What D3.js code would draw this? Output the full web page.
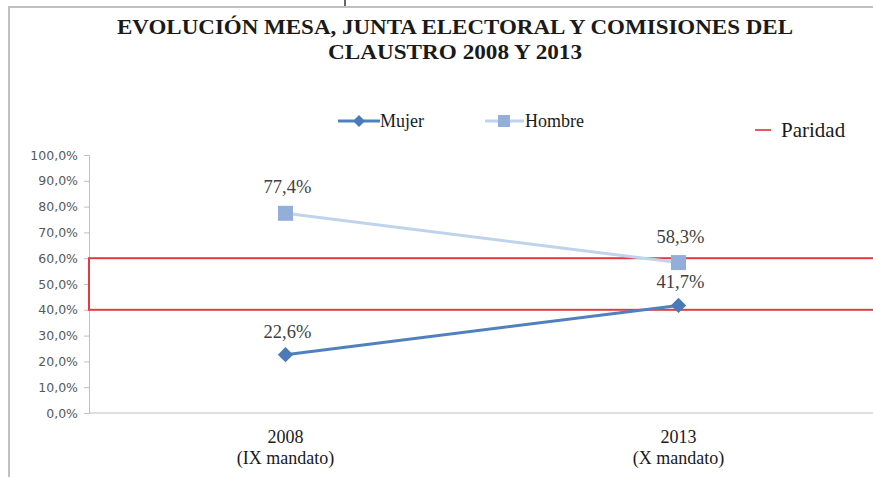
<!DOCTYPE html>
<html>
<head>
<meta charset="utf-8">
<script src="https://cdn.jsdelivr.net/npm/d3@7"></script>
<style>
  body { margin: 0; background: #fff; }
  svg { display: block; }
</style>
</head>
<body>
<div id="chart"></div>
<script>
const categories = ['2008', '2013'];
const categorySub = ['(IX mandato)', '(X mandato)'];
const mujer = [22.6, 41.7];
const hombre = [77.4, 58.3];
const paridad = [40, 60];
const yTicks = [0, 10, 20, 30, 40, 50, 60, 70, 80, 90, 100];
const titleLines = ['EVOLUCIÓN MESA, JUNTA ELECTORAL Y COMISIONES DEL', 'CLAUSTRO 2008 Y 2013'];

const width = 873;
const height = 477;
const plot = { left: 89, right: 875, top: 155, bottom: 413 };

const fmt = v => v.toFixed(1).replace('.', ',') + '%';

const svg = d3.select('#chart')
  .append('svg')
  .attr('width', width)
  .attr('height', height);

// page frame
svg.append('path')
  .attr('d', `M9,${height} V7 H${width}`)
  .attr('fill', 'none')
  .attr('stroke', '#c0c0c0')
  .attr('stroke-width', 2);
svg.append('line')
  .attr('x1', 345).attr('x2', 345).attr('y1', 0).attr('y2', 6)
  .attr('stroke', '#333').attr('stroke-width', 1.5);

// title
titleLines.forEach((t, i) => {
  svg.append('text')
    .attr('x', 455)
    .attr('y', 34 + i * 25)
    .attr('text-anchor', 'middle')
    .attr('textLength', i === 0 ? 676 : 254)
    .attr('lengthAdjust', 'spacingAndGlyphs')
    .style('font-family', '"Liberation Serif", serif')
    .style('font-size', '21px')
    .style('font-weight', 'bold')
    .style('fill', '#1a1a1a')
    .text(t);
});

const x = d3.scalePoint()
  .domain(categories)
  .range([plot.left, plot.right])
  .padding(0.5);

const y = d3.scaleLinear()
  .domain([0, 100])
  .range([plot.bottom, plot.top]);

// y axis
const yAxis = svg.append('g')
  .attr('transform', `translate(${plot.left},0)`)
  .call(d3.axisLeft(y).tickValues(yTicks).tickSize(5).tickPadding(6).tickFormat(fmt));
yAxis.select('.domain').attr('stroke', '#bfbfbf');
yAxis.selectAll('.tick line').attr('stroke', '#bfbfbf');
yAxis.selectAll('.tick text')
  .style('font-family', '"DejaVu Sans", sans-serif')
  .style('font-size', '12.5px')
  .attr('fill', '#595959');

// x axis
svg.append('line')
  .attr('x1', plot.left).attr('x2', width)
  .attr('y1', plot.bottom).attr('y2', plot.bottom)
  .attr('stroke', '#bfbfbf');

categories.forEach((c, i) => {
  const t = svg.append('text')
    .attr('x', x(c))
    .attr('text-anchor', 'middle')
    .style('font-family', '"Liberation Serif", serif')
    .style('font-size', '18px')
    .style('fill', '#1a1a1a');
  t.append('tspan').attr('x', x(c)).attr('y', 443).text(c);
  t.append('tspan').attr('x', x(c)).attr('y', 464).text(categorySub[i]);
});

// parity band
svg.append('rect')
  .attr('x', plot.left)
  .attr('y', y(paridad[1]))
  .attr('width', 800)
  .attr('height', y(paridad[0]) - y(paridad[1]))
  .attr('fill', 'none')
  .attr('stroke', '#e03c40')
  .attr('stroke-width', 2);

const line = d3.line()
  .x((d, i) => x(categories[i]))
  .y(d => y(d));

const diamond = d3.symbol().type(d3.symbolDiamond2).size(150);

// Hombre
svg.append('path')
  .datum(hombre)
  .attr('d', line)
  .attr('fill', 'none')
  .attr('stroke', '#c0d3ec')
  .attr('stroke-width', 3);
svg.selectAll('.hm')
  .data(hombre)
  .enter()
  .append('rect')
  .attr('x', (d, i) => x(categories[i]) - 7.5)
  .attr('y', d => y(d) - 7.5)
  .attr('width', 15)
  .attr('height', 15)
  .attr('fill', '#93aedb');

// Mujer
svg.append('path')
  .datum(mujer)
  .attr('d', line)
  .attr('fill', 'none')
  .attr('stroke', '#4f81bd')
  .attr('stroke-width', 3);
svg.selectAll('.mm')
  .data(mujer)
  .enter()
  .append('path')
  .attr('d', diamond)
  .attr('transform', (d, i) => `translate(${x(categories[i])},${y(d)})`)
  .attr('fill', '#4a7ab8');

// data labels
const labelStyle = sel => sel
  .attr('text-anchor', 'middle')
  .style('font-family', '"Liberation Serif", serif')
  .style('font-size', '18.5px')
  .style('fill', '#404040');

hombre.forEach((v, i) => {
  svg.append('text')
    .attr('x', x(categories[i]) + 2)
    .attr('y', y(v) - 20)
    .call(labelStyle)
    .text(fmt(v));
});
mujer.forEach((v, i) => {
  svg.append('text')
    .attr('x', x(categories[i]) + 2)
    .attr('y', y(v) - 17)
    .call(labelStyle)
    .text(fmt(v));
});

// legend
const legendFont = sel => sel
  .style('font-family', '"Liberation Serif", serif')
  .style('font-size', '18px')
  .style('fill', '#1a1a1a');

const lg = svg.append('g');
lg.append('line')
  .attr('x1', 338).attr('x2', 380).attr('y1', 121).attr('y2', 121)
  .attr('stroke', '#4f81bd').attr('stroke-width', 3);
lg.append('path')
  .attr('d', d3.symbol().type(d3.symbolDiamond2).size(90))
  .attr('transform', 'translate(359,121)')
  .attr('fill', '#4a7ab8');
lg.append('text').attr('x', 380).attr('y', 127).call(legendFont).text('Mujer');

lg.append('line')
  .attr('x1', 485).attr('x2', 524).attr('y1', 121).attr('y2', 121)
  .attr('stroke', '#c0d3ec').attr('stroke-width', 3);
lg.append('rect')
  .attr('x', 498).attr('y', 115).attr('width', 12).attr('height', 12)
  .attr('fill', '#93aedb');
lg.append('text').attr('x', 525).attr('y', 127).call(legendFont).text('Hombre');

lg.append('line')
  .attr('x1', 755).attr('x2', 771).attr('y1', 130).attr('y2', 130)
  .attr('stroke', '#e05a5e').attr('stroke-width', 2);
lg.append('text').attr('x', 781).attr('y', 137)
  .style('font-family', '"Liberation Serif", serif')
  .style('font-size', '21px')
  .style('fill', '#1a1a1a')
  .text('Paridad');
</script>
</body>
</html>
